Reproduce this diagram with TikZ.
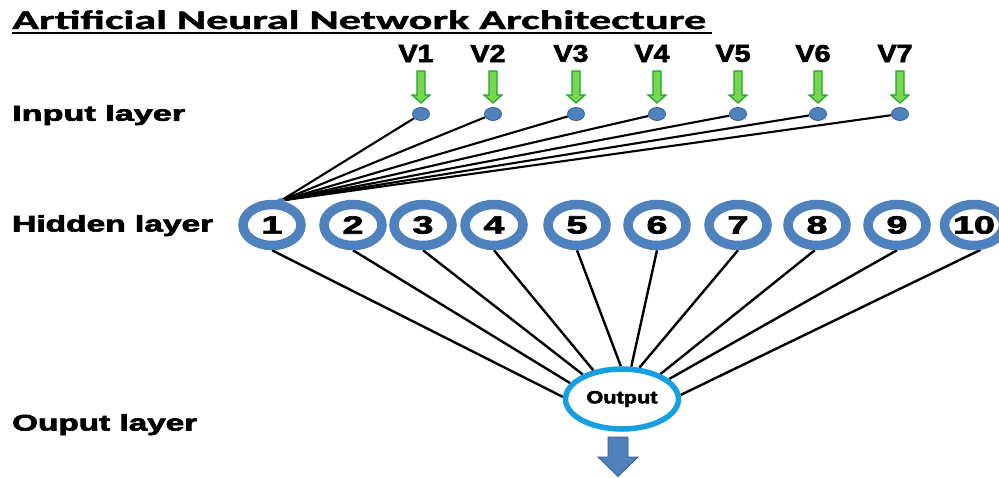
\documentclass[tikz,border=0pt]{standalone}
\usepackage{fontspec}
\setmainfont{Liberation Sans}
\newfontfamily\heavy{Liberation Sans}[BoldFeatures={FakeBold=2.6}]
\newfontfamily\titlefont{Carlito}[BoldFeatures={FakeBold=1.2}]
\usetikzlibrary{shapes.geometric,backgrounds}
\definecolor{hblue}{RGB}{79,129,189}
\definecolor{hbluedk}{RGB}{56,93,138}
\definecolor{oblue}{RGB}{22,160,226}
\definecolor{gfill}{RGB}{120,215,80}
\definecolor{gedge}{RGB}{30,165,40}
\newcommand\dig[1]{\scalebox{1.5}[1]{\fontsize{25}{25}\selectfont\heavy\bfseries #1}}
\tikzset{
  hid/.style={ellipse,draw=hblue,line width=9.5pt,fill=white,minimum width=58pt,minimum height=41pt,inner sep=0pt},
  outring/.style={ellipse,draw=oblue,line width=5.5pt,fill=white,minimum width=113pt,minimum height=60pt,inner sep=0pt},
  indot/.style={ellipse,draw=hbluedk,line width=0.8pt,fill=hblue,minimum width=17pt,minimum height=13pt,inner sep=0pt},
  hubdot/.style={ellipse,fill=hblue,minimum width=8pt,minimum height=5pt,inner sep=0pt},
  conn/.style={draw=black,line width=2.4pt},
  inconn/.style={draw=black,line width=2.1pt},
  garr/.style={fill=gfill,draw=gedge,line width=1.2pt},
  barr/.style={fill=hblue,draw=hbluedk,line width=0.8pt},
  lab/.style={anchor=north west,inner sep=0pt},
  vlab/.style={inner sep=0pt}
}
\begin{document}
\begin{tikzpicture}[x=1pt,y=-1pt]
\useasboundingbox (0,0) rectangle (999,477);
% title
\node[lab] (title) at (12,10) {\resizebox*{694pt}{19pt}{\titlefont\bfseries Artificial Neural Network Architecture}};
\draw[line width=2.5pt] (12,33) -- (712,33);
% layer labels
\node[lab] (linput) at (12,105) {\resizebox*{173pt}{20pt}{\heavy\bfseries Input layer}};
\node[lab] (lhidden) at (12,215) {\resizebox*{201pt}{21pt}{\heavy\bfseries Hidden layer}};
\node[lab] (loutput) at (12,414) {\resizebox*{185pt}{21pt}{\heavy\bfseries Ouput layer}};
% input nodes
\foreach \x [count=\i] in {421,493,576,657,738,818,900} {
  \node[indot] (i\i) at (\x,114) {};
  \node[vlab] (v\i) at (\x-5,53.5) {\resizebox*{35pt}{17pt}{\heavy\bfseries V\i}};
  \draw[garr] (\x-4,71) -- (\x+4,71) -- (\x+4,95) -- (\x+9,95) -- (\x,103) -- (\x-9,95) -- (\x-4,95) -- cycle;
}
% hidden nodes
\foreach \x [count=\i] in {272,353,423,494,577,657,738,817,897,974} {
  \node[hid] (h\i) at (\x,225) {\dig{\i}};
}
% output node
\node[outring] (out) at (622,399) {\resizebox*{71pt}{16pt}{\heavy\bfseries Output}};
% hub
\coordinate (hub) at (h1.70);
\node[hubdot] (hubd) at (hub) {};
\begin{scope}[on background layer]
  \fill[white] (0,0) rectangle (999,477);
  \foreach \i in {1,...,7} { \draw[inconn] (i\i) -- (hub); }
  \draw[conn] (h1.south) -- (out.178);
  \draw[conn] (h2.south) -- (out.163);
  \draw[conn] (h3.south) -- (out.148);
  \draw[conn] (h4.south) -- (out.135);
  \draw[conn] (h5.south) -- (out.92);
  \draw[conn] (h6.south) -- (out.74);
  \draw[conn] (h7.south) -- (out.61);
  \draw[conn] (h8.-95) -- (out.33);
  \draw[conn] (h9.south) -- (out.23);
  \draw[conn] (h10.-75) -- (out.4);
\end{scope}
% output arrow
\draw[barr] (608,437) -- (628,437) -- (628,457) -- (638,457) -- (618,476.5) -- (598,457) -- (608,457) -- cycle;
\end{tikzpicture}
\end{document}
